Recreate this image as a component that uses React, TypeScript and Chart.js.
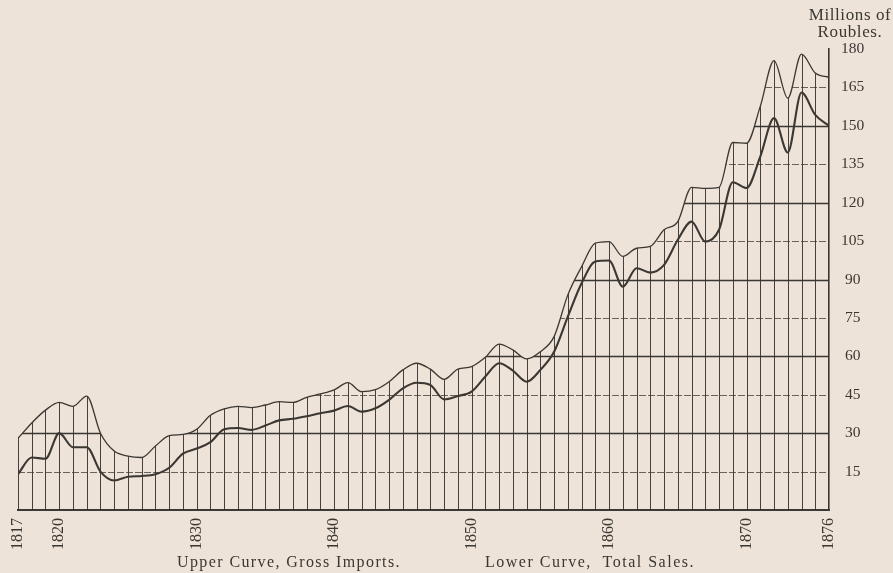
import React, { useEffect, useRef } from 'react';
import { Chart, registerables } from 'chart.js';

Chart.register(...registerables);

// Years (one vertical rule per year)
const years = [
  1817, 1818, 1819, 1820, 1821, 1822, 1823, 1824, 1825, 1826,
  1827, 1828, 1829, 1830, 1831, 1832, 1833, 1834, 1835, 1836,
  1837, 1838, 1839, 1840, 1841, 1842, 1843, 1844, 1845, 1846,
  1847, 1848, 1849, 1850, 1851, 1852, 1853, 1854, 1855, 1856,
  1857, 1858, 1859, 1860, 1861, 1862, 1863, 1864, 1865, 1866,
  1867, 1868, 1869, 1870, 1871, 1872, 1873, 1874, 1875, 1876,
];

// Upper curve: Gross Imports (millions of roubles)
const grossImports = [
  28, 34, 39, 42, 40.5, 44.5, 30, 23, 21, 20.5,
  25, 29, 29.5, 31.5, 37, 39.5, 40.5, 40, 41, 42.3,
  42, 44, 45.3, 46.9, 49.7, 46.2, 47, 50.1, 54.7, 57.3,
  55, 51, 55, 56, 59.6, 64.8, 62.5, 59, 61.8, 67.7,
  84, 95, 104.2, 104.8, 99, 102.2, 102.9, 109.4, 112.6, 126,
  125.6, 126, 143.5, 143.2, 157.6, 175.5, 160.8, 178, 170.6, 169,
];

// Lower curve: Total Sales (millions of roubles)
const totalSales = [
  14, 20.5, 20, 30, 24.5, 24.5, 15, 11.5, 13, 13.3,
  14, 16.5, 22, 24, 26.5, 31.5, 32, 31.3, 33, 35,
  35.6, 36.6, 37.8, 38.8, 40.6, 38.4, 39.7, 43, 47.5, 49.7,
  48.8, 43.2, 44.5, 46.2, 52.1, 57.3, 54.4, 50.1, 54.7, 61.8,
  75.5, 88.5, 97, 97.4, 87.2, 94.4, 92.7, 95.7, 105.5, 112.6,
  104.8, 109.4, 128, 125.7, 138, 153, 139.6, 163, 154.3, 150,
];

const yearLabels = [1817, 1820, 1830, 1840, 1850, 1860, 1870, 1876];
const valueTicks = [15, 30, 45, 60, 75, 90, 105, 120, 135, 150, 165, 180];

const INK = '#3b3733';
const BG = '#ede3d8';
const SERIF = '"Liberation Serif", "DejaVu Serif", serif';

const underCurveGrid = {
  id: 'underCurveGrid',
  beforeDatasetsDraw(chart: any) {
    const meta = chart.getDatasetMeta(0);
    const line = meta.dataset;
    const pts = meta.data;
    if (!line || !pts || !pts.length) return;
    const { ctx, chartArea, scales } = chart;
    const xs = scales.x;
    const ys = scales.y;
    const bottom = ys.getPixelForValue(0);
    if (typeof line.updateControlPoints === 'function') {
      line.updateControlPoints(chartArea, 'x');
    }
    ctx.save();
    ctx.beginPath();
    line.path(ctx);
    const last = pts[pts.length - 1];
    const first = pts[0];
    ctx.lineTo(last.x, bottom);
    ctx.lineTo(first.x, bottom);
    ctx.closePath();
    ctx.clip();

    // vertical year rules
    ctx.strokeStyle = 'rgba(50,46,42,0.9)';
    ctx.lineWidth = 1;
    ctx.setLineDash([]);
    for (const yr of years) {
      const px = Math.round(xs.getPixelForValue(yr)) + 0.5;
      ctx.beginPath();
      ctx.moveTo(px, bottom);
      ctx.lineTo(px, chartArea.top - 5);
      ctx.stroke();
    }
    // horizontal value rules
    for (const v of valueTicks) {
      const py = Math.round(ys.getPixelForValue(v)) + 0.5;
      const major = v % 30 === 0;
      ctx.strokeStyle = major ? 'rgba(50,46,42,0.95)' : 'rgba(60,55,50,0.75)';
      ctx.lineWidth = major ? 1.4 : 1;
      ctx.setLineDash(major ? [] : [7, 2]);
      ctx.beginPath();
      ctx.moveTo(chartArea.left, py);
      ctx.lineTo(chartArea.right, py);
      ctx.stroke();
    }
    ctx.restore();
  },
};

export default function App() {
  const canvasRef = useRef<HTMLCanvasElement | null>(null);

  useEffect(() => {
    if (!canvasRef.current) return;
    const chart = new Chart(canvasRef.current, {
      type: 'line',
      data: {
        datasets: [
          {
            label: 'Gross Imports',
            data: years.map((yr, i) => ({ x: yr, y: grossImports[i] })),
            borderColor: INK,
            borderWidth: 1.3,
            pointRadius: 0,
            cubicInterpolationMode: 'monotone',
            fill: false,
          },
          {
            label: 'Total Sales',
            data: years.map((yr, i) => ({ x: yr, y: totalSales[i] })),
            borderColor: INK,
            borderWidth: 2.1,
            pointRadius: 0,
            cubicInterpolationMode: 'monotone',
            fill: false,
          },
        ],
      },
      options: {
        animation: false,
        responsive: false,
        devicePixelRatio: 1,
        layout: { padding: { left: 18, top: 49, right: 0, bottom: 0 } },
        plugins: {
          legend: { display: false },
          tooltip: { enabled: false },
        },
        scales: {
          x: {
            type: 'linear',
            min: 1817,
            max: 1876,
            afterBuildTicks: (scale: any) => {
              scale.ticks = yearLabels.map((v) => ({ value: v }));
            },
            afterFit: (scale: any) => {
              scale.height = 63;
            },
            grid: { display: false, drawTicks: false },
            border: { display: true, color: INK, width: 2 },
            ticks: {
              autoSkip: false,
              minRotation: 90,
              maxRotation: 90,
              padding: 8,
              color: INK,
              font: { family: SERIF, size: 16 },
              callback: (v: any) => String(v),
            },
          },
          y: {
            type: 'linear',
            position: 'right',
            min: 0,
            max: 180,
            afterBuildTicks: (scale: any) => {
              scale.ticks = valueTicks.map((v) => ({ value: v }));
            },
            afterFit: (scale: any) => {
              scale.width = 64;
            },
            grid: { display: false, drawTicks: false },
            border: { display: true, color: INK, width: 1.6 },
            ticks: {
              crossAlign: 'center',
              padding: 12,
              color: INK,
              font: { family: SERIF, size: 15.5 },
              callback: (v: any) => String(v),
            },
          },
        },
      },
      plugins: [underCurveGrid],
    } as any);
    return () => chart.destroy();
  }, []);

  const textStyle: React.CSSProperties = {
    position: 'absolute',
    fontFamily: SERIF,
    color: INK,
    whiteSpace: 'nowrap',
  };

  return (
    <div
      style={{
        position: 'fixed',
        left: 0,
        top: 0,
        width: 893,
        height: 573,
        background: BG,
        overflow: 'hidden',
      }}
    >
      <canvas ref={canvasRef} width={893} height={573} style={{ position: 'absolute', left: 0, top: 0 }} />
      <div
        style={{
          ...textStyle,
          left: 798,
          top: 6,
          width: 104,
          textAlign: 'center',
          fontSize: 17,
          letterSpacing: '0.6px',
          lineHeight: '17px',
        }}
      >
        Millions of
        <br />
        Roubles.
      </div>
      <div style={{ ...textStyle, left: 177, top: 553, fontSize: 16, letterSpacing: '1.4px', lineHeight: '18px' }}>
        Upper Curve, Gross Imports.
      </div>
      <div style={{ ...textStyle, left: 485, top: 553, fontSize: 16, letterSpacing: '1.5px', lineHeight: '18px' }}>
        Lower Curve,&nbsp; Total Sales.
      </div>
    </div>
  );
}
